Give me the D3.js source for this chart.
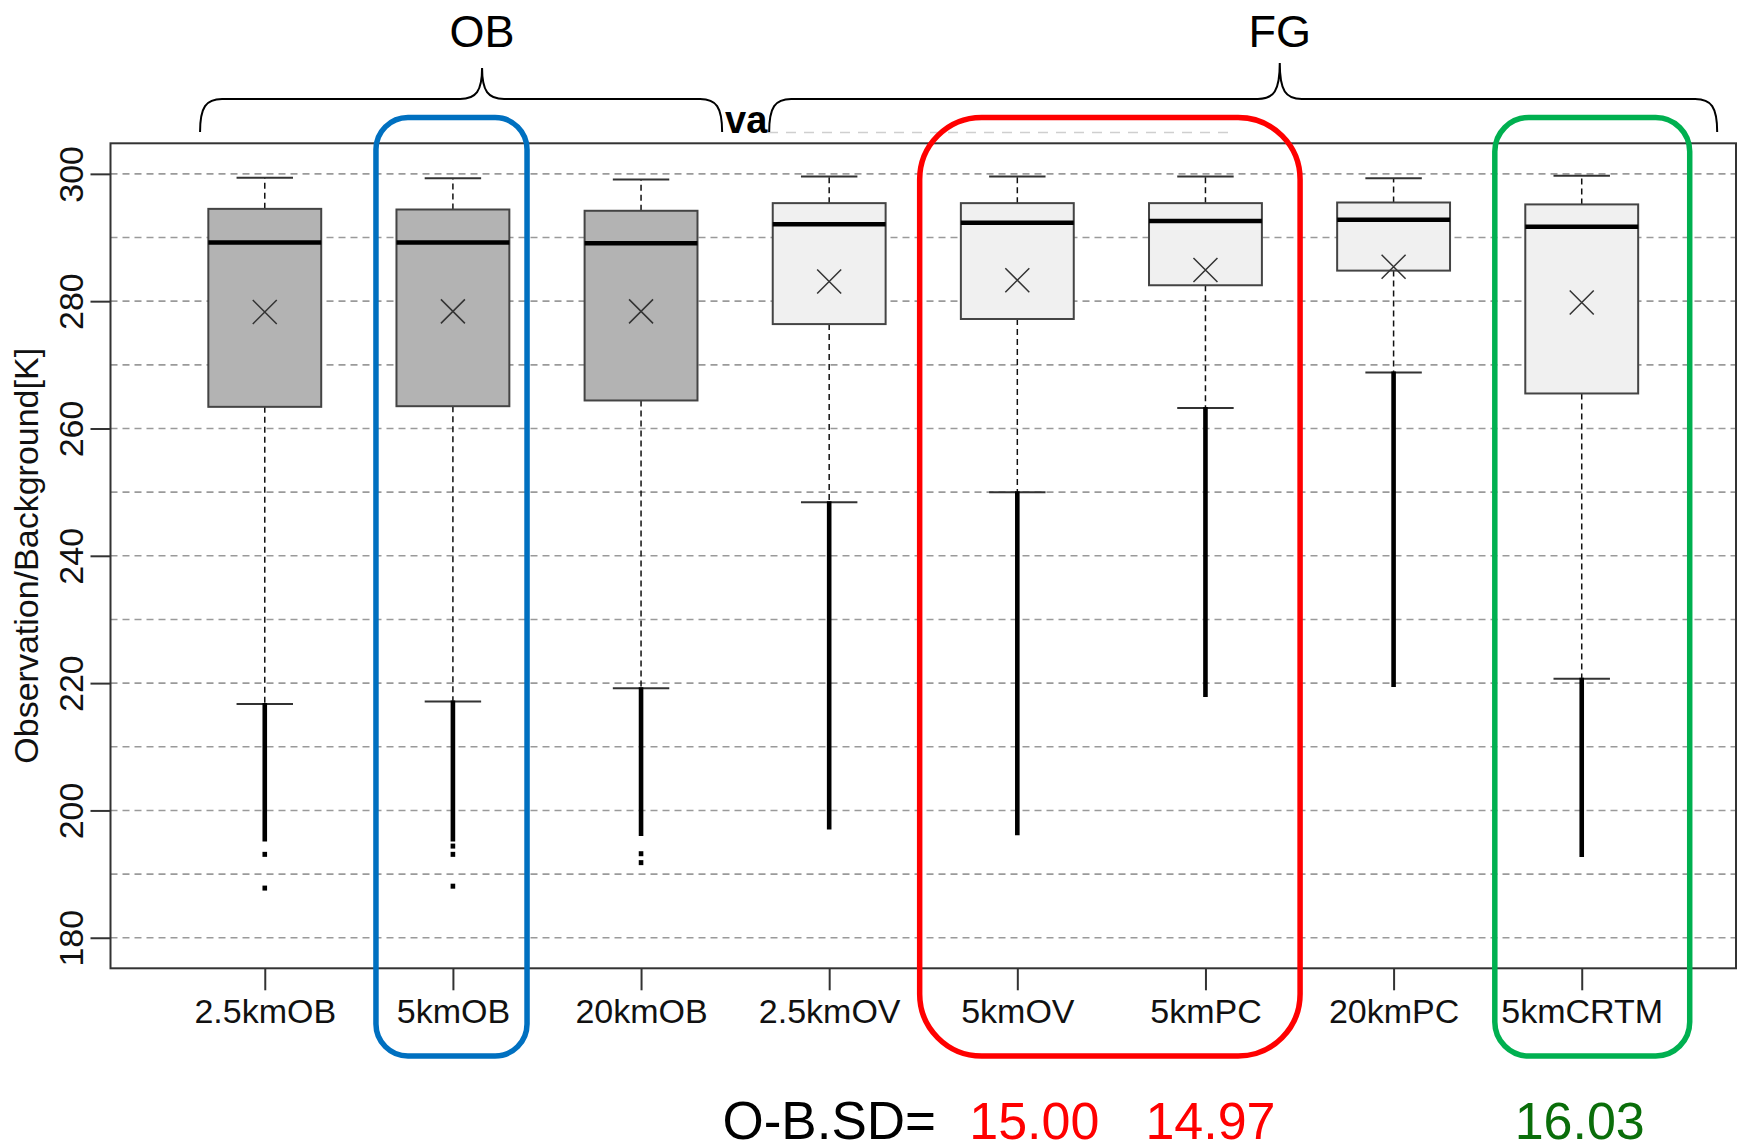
<!DOCTYPE html>
<html>
<head>
<meta charset="utf-8">
<script src="https://cdn.jsdelivr.net/npm/d3@7"></script>
<style>
  body { margin: 0; background: #fff; }
  svg { display: block; font-family: "Liberation Sans", Arial, sans-serif; }
</style>
</head>
<body>
<svg width="1743" height="1144"></svg>
<script>
// data
const names      = ['2.5kmOB', '5kmOB', '20kmOB', '2.5kmOV', '5kmOV', '5kmPC', '20kmPC', '5kmCRTM'];
const groupOB    = [true, true, true, false, false, false, false, false];
const whiskerHi  = [299.4, 299.3, 299.1, 299.6, 299.6, 299.6, 299.3, 299.7];
const q3         = [294.5, 294.4, 294.2, 295.4, 295.4, 295.4, 295.5, 295.2];
const medians    = [289.2, 289.2, 289.1, 292.1, 292.3, 292.6, 292.8, 291.7];
const means      = [278.3, 278.4, 278.4, 283.1, 283.3, 284.9, 285.4, 279.8];
const q1         = [263.4, 263.5, 264.4, 276.4, 277.2, 282.5, 284.8, 265.5];
const whiskerLo  = [216.7, 217.1, 219.2, 248.4, 250.0, 263.2, 268.8, 220.7];
const denseLow   = [195.1, 195.1, 196.0, 197.0, 196.1, 217.8, 219.4, 192.7]; // bottom of the packed outlier run
const outliers   = [[193.1, 187.8], [194.4, 193.1, 188.1], [193.2, 191.8], [], [], [], [], []];
const yTicks     = [180, 200, 220, 240, 260, 280, 300];
const yGrid      = d3.range(180, 301, 10);
const sdBoxes    = [5, 6, 8];
const sdValues   = ['15.00', '14.97', '16.03'];
const sdColors   = ['#ff0000', '#ff0000', '#0a6e0a'];

const svg = d3.select('svg');

// plot region (R style: ylim 180..300 with 4% padding)
const plotL = 110.5, plotR = 1736, plotT = 143.3, plotB = 968.3;
const x = d3.scaleLinear().domain([0.18, 8.82]).range([plotL, plotR]);
const y = d3.scaleLinear().domain([175.2, 304.8]).range([plotB, plotT]);
const bw = x(1.3) - x(1); // half box width

// grid
svg.append('g').selectAll('line').data(yGrid).join('line')
  .attr('x1', plotL).attr('x2', plotR)
  .attr('y1', d => y(d)).attr('y2', d => y(d))
  .attr('stroke', '#9a9a9a').attr('stroke-width', 1.6)
  .attr('stroke-dasharray', '7,5');

// boxes
const boxes = svg.append('g').selectAll('g').data(names).join('g')
  .attr('transform', (d, i) => `translate(${x(i + 1)},0)`);

// whiskers
boxes.append('line')
  .attr('y1', (d, i) => y(q3[i])).attr('y2', (d, i) => y(whiskerHi[i]))
  .attr('stroke', '#111').attr('stroke-width', 1.5).attr('stroke-dasharray', '6,4');
boxes.append('line')
  .attr('y1', (d, i) => y(q1[i])).attr('y2', (d, i) => y(whiskerLo[i]))
  .attr('stroke', '#111').attr('stroke-width', 1.5).attr('stroke-dasharray', '6,4');
// caps
boxes.selectAll('.cap').data((d, i) => [whiskerHi[i], whiskerLo[i]]).join('line')
  .attr('class', 'cap')
  .attr('x1', -bw / 2).attr('x2', bw / 2)
  .attr('y1', v => y(v)).attr('y2', v => y(v))
  .attr('stroke', '#333').attr('stroke-width', 2);

// box body
boxes.append('rect')
  .attr('x', -bw).attr('width', 2 * bw)
  .attr('y', (d, i) => y(q3[i]))
  .attr('height', (d, i) => y(q1[i]) - y(q3[i]))
  .attr('fill', (d, i) => groupOB[i] ? '#b3b3b3' : '#f0f0f0')
  .attr('stroke', '#444').attr('stroke-width', 2);

// median
boxes.append('line')
  .attr('x1', -bw).attr('x2', bw)
  .attr('y1', (d, i) => y(medians[i])).attr('y2', (d, i) => y(medians[i]))
  .attr('stroke', '#000').attr('stroke-width', 4.5);

// mean as an x
boxes.append('path')
  .attr('d', (d, i) => {
    const c = y(means[i]), s = 12;
    return `M${-s},${c - s}L${s},${c + s}M${-s},${c + s}L${s},${c - s}`;
  })
  .attr('stroke', '#333').attr('stroke-width', 1.5).attr('fill', 'none');

// packed outliers (drawn as a thick run) and isolated ones
boxes.append('line')
  .attr('y1', (d, i) => y(whiskerLo[i]) - 1).attr('y2', (d, i) => y(denseLow[i]))
  .attr('stroke', '#000').attr('stroke-width', 4.6);
boxes.selectAll('.out').data((d, i) => outliers[i]).join('rect')
  .attr('class', 'out')
  .attr('x', -2.3).attr('width', 4.6)
  .attr('y', v => y(v) - 2.5).attr('height', 5)
  .attr('fill', '#000');

// frame
svg.append('rect')
  .attr('x', plotL).attr('y', plotT)
  .attr('width', plotR - plotL).attr('height', plotB - plotT)
  .attr('fill', 'none').attr('stroke', '#333').attr('stroke-width', 2);

// y axis
const yAxisG = svg.append('g')
  .attr('transform', `translate(${plotL},0)`)
  .call(d3.axisLeft(y).tickValues(yTicks).tickSize(20).tickFormat(d3.format('d')));
yAxisG.select('.domain').remove();
yAxisG.selectAll('.tick line').attr('stroke', '#333').attr('stroke-width', 2);
yAxisG.selectAll('.tick text')
  .attr('x', null).attr('dy', null)
  .attr('transform', 'translate(-28,0) rotate(-90)')
  .attr('text-anchor', 'middle')
  .attr('fill', '#111')
  .style('font-size', '34px');

svg.append('text')
  .attr('transform', `translate(38,${(plotT + plotB) / 2}) rotate(-90)`)
  .attr('text-anchor', 'middle')
  .attr('fill', '#111')
  .style('font-size', '34px')
  .text('Observation/Background[K]');

// x axis
const xAxisG = svg.append('g')
  .attr('transform', `translate(0,${plotB})`)
  .call(d3.axisBottom(x).tickValues(d3.range(1, 9)).tickSize(22).tickFormat(i => names[i - 1]));
xAxisG.select('.domain').remove();
xAxisG.selectAll('.tick line').attr('stroke', '#333').attr('stroke-width', 2);
xAxisG.selectAll('.tick text')
  .attr('y', 54.4).attr('dy', null)
  .attr('fill', '#111')
  .style('font-size', '34px');

// leftover of the covered title
svg.append('line')
  .attr('x1', 768).attr('x2', 1235).attr('y1', 132.5).attr('y2', 132.5)
  .attr('stroke', '#cfcfcf').attr('stroke-width', 1.5).attr('stroke-dasharray', '10,8');
svg.append('text')
  .attr('x', 725).attr('y', 133)
  .style('font-size', '38px').style('font-weight', 'bold')
  .text('va');

// group braces: [left, tip, right] in box units
const braceLabels = ['OB', 'FG'];
const braceSpans  = [[0.656, 2.155, 3.431], [3.681, 6.395, 8.72]];
const braceTipY   = [68, 63];

const brace = (x0, xt, x1, yTip) => {
  const yEnd = 132, yH = 99, r = 22, r2 = 22;
  return `M${x0},${yEnd} C${x0},${yH + 8} ${x0 + 6},${yH} ${x0 + r},${yH}` +
    ` L${xt - r2},${yH} C${xt - 6},${yH} ${xt},${yH - 8} ${xt},${yTip}` +
    ` M${xt},${yTip} C${xt},${yH - 8} ${xt + 6},${yH} ${xt + r2},${yH}` +
    ` L${x1 - r},${yH} C${x1 - 6},${yH} ${x1},${yH + 8} ${x1},${yEnd}`;
};
braceSpans.forEach((s, k) => {
  svg.append('path')
    .attr('d', brace(x(s[0]), x(s[1]), x(s[2]), braceTipY[k]))
    .attr('fill', 'none').attr('stroke', '#000').attr('stroke-width', 2);
  svg.append('text')
    .attr('x', x(s[1])).attr('y', 47)
    .attr('text-anchor', 'middle')
    .style('font-size', '45px')
    .text(braceLabels[k]);
});

// highlight frames: [from, to] in box units
const frameSpans  = [[1.591, 2.394], [4.481, 6.503], [7.538, 8.574]];
const frameColors = ['#0070c0', '#ff0000', '#00b050'];
const frameRadius = [32, 62, 34];
frameSpans.forEach((s, k) => {
  svg.append('rect')
    .attr('x', x(s[0])).attr('width', x(s[1]) - x(s[0]))
    .attr('y', 117.5).attr('height', 1056 - 117.5)
    .attr('rx', frameRadius[k])
    .attr('fill', 'none').attr('stroke', frameColors[k]).attr('stroke-width', 5.5);
});

// O-B standard deviations
svg.append('text')
  .attr('x', 936).attr('y', 1139)
  .attr('text-anchor', 'end')
  .style('font-size', '53px')
  .text('O-B.SD=');
const sdShift = [17, 5, -2];
sdValues.forEach((v, k) => {
  svg.append('text')
    .attr('x', x(sdBoxes[k]) + sdShift[k]).attr('y', 1139)
    .attr('text-anchor', 'middle')
    .attr('fill', sdColors[k])
    .style('font-size', '52px')
    .text(v);
});
</script>
</body>
</html>
